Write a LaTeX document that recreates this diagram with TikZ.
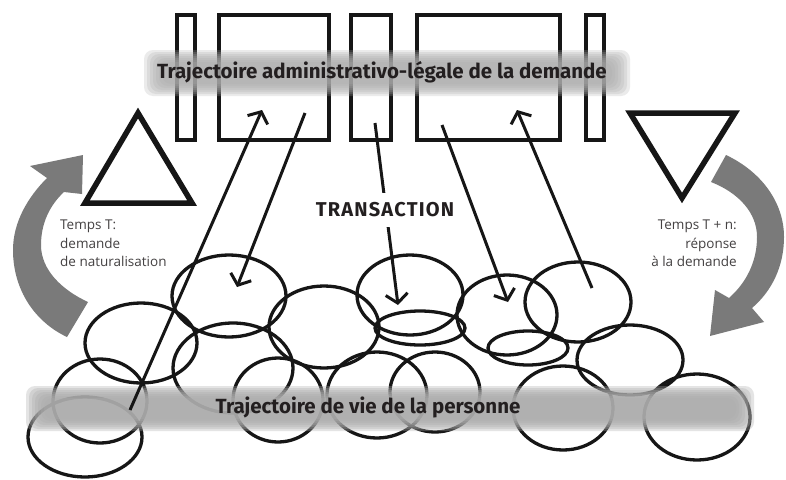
\documentclass[tikz,border=0pt]{standalone}
\usepackage{fontspec}
\setmainfont{Fira Sans}
\newfontfamily\labelfont{Open Sans}
\newfontfamily\capsfont[LetterSpace=6]{Fira Sans}
\usetikzlibrary{arrows.meta,shapes.geometric,calc}
\definecolor{ink}{RGB}{22,22,22}
\definecolor{arrowgray}{RGB}{122,122,122}
\definecolor{bandgray}{RGB}{172,172,172}
\definecolor{txt}{RGB}{35,31,32}
\begin{document}
\begin{tikzpicture}[x=1pt,y=-1pt,
  ring/.style={draw=ink, line width=3.3pt},
  boxline/.style={draw=ink, line width=3.8pt, inner sep=0pt, anchor=north west},
  tri/.style={draw=ink, line width=5.5pt, line join=miter},
  link/.style={draw=ink, line width=3pt, -{Straight Barb[length=9pt,width=22pt]}},
  title/.style={font=\bfseries\fontsize{20.5}{24}\selectfont, text=txt},
  side/.style={font=\labelfont\fontsize{13.5}{18.5}\selectfont, text=txt!85},
  bigarrow/.style={fill=arrowgray, draw=none},
]
\useasboundingbox (0,0) rectangle (786,479);
\fill[white] (0,0) rectangle (786,479);

% top rectangles
\node[boxline, minimum width=18pt, minimum height=125pt] (bar1) at (175,13) {};
\node[boxline, minimum width=110pt, minimum height=125pt] (rect1) at (217,13) {};
\node[boxline, minimum width=40pt, minimum height=125pt] (bar2) at (349,13) {};
\node[boxline, minimum width=143pt, minimum height=125pt] (rect2) at (415,13) {};
\node[boxline, minimum width=18pt, minimum height=125pt] (bar3) at (584,13) {};

% top band
\foreach \i in {0,...,6}
  \fill[bandgray, opacity=0.24, rounded corners=9pt] (144+\i*3, 50+\i*2) rectangle (630-\i*3, 96-\i*2);

% triangles
\draw[tri] (138,113) -- (192,203) -- (85,203) -- cycle;
\draw[tri] (630,113) -- (735,113) -- (682,198) -- cycle;

% big curved arrows
\fill[bigarrow] (83,155) -- (30,166) -- (47,178) .. controls (28,197) and (13,222) .. (13,250)
  .. controls (13,290) and (35,322) .. (67,337) -- (88,302)
  .. controls (62,290) and (41,270) .. (41,245) .. controls (41,223) and (50,205) .. (64,192)
  -- (82,194) -- cycle;
\fill[bigarrow] (711,182) -- (726,155) .. controls (762,172) and (784,203) .. (784,237)
  .. controls (784,266) and (772,291) .. (752,308) -- (764,322) -- (710,336) -- (715,290)
  -- (729,298) .. controls (746,283) and (757,262) .. (757,237)
  .. controls (757,213) and (739,193) .. (711,182) -- cycle;

% circles (life trajectory)
\draw[ring] (229,296) ellipse [x radius=57pt, y radius=41pt];
\draw[ring] (324,327) ellipse [x radius=55pt, y radius=41pt];
\draw[ring] (141,343) ellipse [x radius=56pt, y radius=40pt];
\draw[ring] (233,368) ellipse [x radius=60pt, y radius=45pt];
\draw[ring] (278,400) ellipse [x radius=45pt, y radius=42pt];
\draw[ring] (100,401) ellipse [x radius=47pt, y radius=42pt];
\draw[ring] (85,437) ellipse [x radius=57pt, y radius=40pt];
\draw[ring] (410,295) ellipse [x radius=53pt, y radius=40pt];
\draw[ring] (420,328) ellipse [x radius=45pt, y radius=17pt];
\draw[ring] (377,395) ellipse [x radius=50pt, y radius=43pt];
\draw[ring] (435,392) ellipse [x radius=45pt, y radius=40pt];
\draw[ring] (507,315) ellipse [x radius=50pt, y radius=40pt];
\draw[ring] (578,302) ellipse [x radius=53pt, y radius=40pt];
\draw[ring] (528,348) ellipse [x radius=40pt, y radius=17pt];
\draw[ring] (630,360) ellipse [x radius=53pt, y radius=35pt];
\draw[ring] (563,408) ellipse [x radius=50pt, y radius=42pt];
\draw[ring] (697,417) ellipse [x radius=53pt, y radius=43pt];

% bottom band
\foreach \i in {0,...,6}
  \fill[bandgray, opacity=0.32, rounded corners=9pt] (26+\i*3, 386+\i*2) rectangle (754-\i*3, 431-\i*2);

% arrow end points
\coordinate (s1) at (130,410); \coordinate (e1) at (262,110);
\coordinate (s2) at (305,113); \coordinate (e2) at (237,287);
\coordinate (s3) at (375,123); \coordinate (e3) at (398,305);
\coordinate (s4) at (442,125); \coordinate (e4) at (508,302);
\coordinate (s5) at (592,288); \coordinate (e5) at (517,110);

\draw[link] (s1) -- (e1);
\draw[link] (s2) -- (e2);
\draw[link] (s3) -- (e3);
\draw[link] (s4) -- (e4);
\draw[link] (s5) -- (e5);

% texts
\node[title] (t1) at (382,72) {Trajectoire administrativo-légale de la demande};
\node[title, fill=white, inner xsep=4pt, inner ysep=10pt, font=\capsfont\bfseries\fontsize{20}{22}\selectfont] (tr) at (385,210) {TRANSACTION};
\node[title] (t2) at (368,407) {Trajectoire de vie de la personne};
\node[side, anchor=north west, align=left, inner sep=0pt] (lt) at (60,220) {Temps T:\\demande\\de naturalisation};
\node[side, anchor=north east, align=right, inner sep=0pt] (rt) at (737,220) {Temps T + n:\\réponse\\à la demande};
\end{tikzpicture}
\end{document}
